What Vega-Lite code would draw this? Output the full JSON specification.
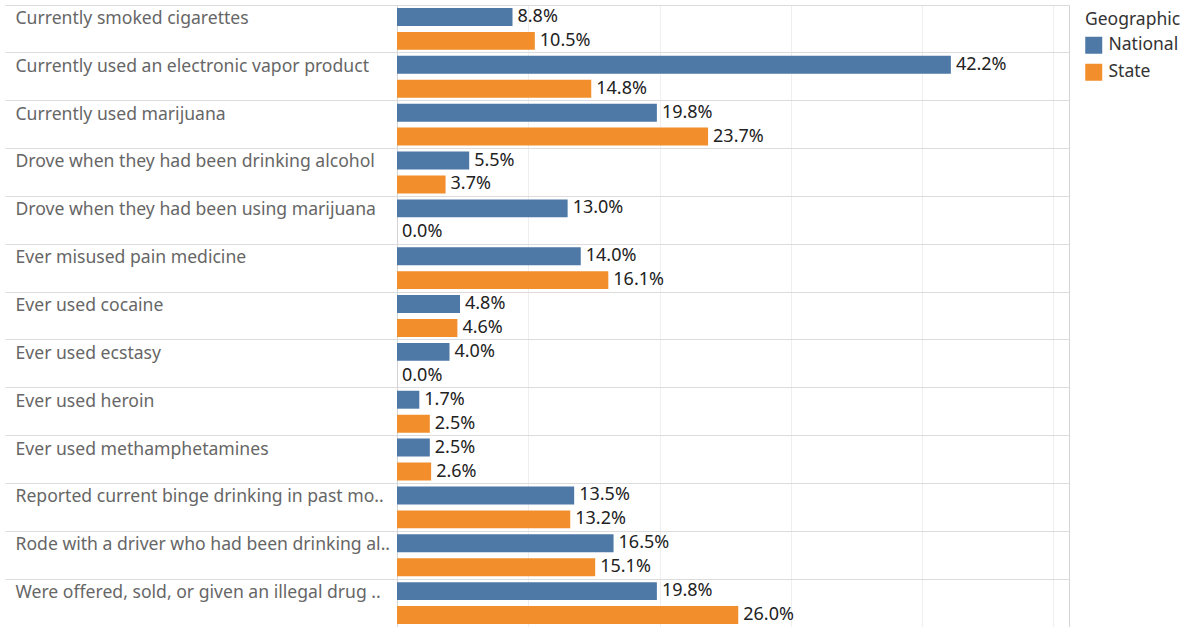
{
  "$schema": "https://vega.github.io/schema/vega-lite/v6.json",
  "width": 672,
  "height": 622,
  "autosize": {"type": "none"},
  "padding": {"left": 397, "top": 5, "right": 120, "bottom": 0},
  "background": "white",
  "data": {
    "values": [
      {"measure": "Currently smoked cigarettes", "geo": "National", "value": 0.088},
      {"measure": "Currently smoked cigarettes", "geo": "State", "value": 0.105},
      {"measure": "Currently used an electronic vapor product", "geo": "National", "value": 0.422},
      {"measure": "Currently used an electronic vapor product", "geo": "State", "value": 0.148},
      {"measure": "Currently used marijuana", "geo": "National", "value": 0.198},
      {"measure": "Currently used marijuana", "geo": "State", "value": 0.237},
      {"measure": "Drove when they had been drinking alcohol", "geo": "National", "value": 0.055},
      {"measure": "Drove when they had been drinking alcohol", "geo": "State", "value": 0.037},
      {"measure": "Drove when they had been using marijuana", "geo": "National", "value": 0.130},
      {"measure": "Drove when they had been using marijuana", "geo": "State", "value": 0.0},
      {"measure": "Ever misused pain medicine", "geo": "National", "value": 0.140},
      {"measure": "Ever misused pain medicine", "geo": "State", "value": 0.161},
      {"measure": "Ever used cocaine", "geo": "National", "value": 0.048},
      {"measure": "Ever used cocaine", "geo": "State", "value": 0.046},
      {"measure": "Ever used ecstasy", "geo": "National", "value": 0.040},
      {"measure": "Ever used ecstasy", "geo": "State", "value": 0.0},
      {"measure": "Ever used heroin", "geo": "National", "value": 0.017},
      {"measure": "Ever used heroin", "geo": "State", "value": 0.025},
      {"measure": "Ever used methamphetamines", "geo": "National", "value": 0.025},
      {"measure": "Ever used methamphetamines", "geo": "State", "value": 0.026},
      {"measure": "Reported current binge drinking in past mo..", "geo": "National", "value": 0.135},
      {"measure": "Reported current binge drinking in past mo..", "geo": "State", "value": 0.132},
      {"measure": "Rode with a driver who had been drinking al..", "geo": "National", "value": 0.165},
      {"measure": "Rode with a driver who had been drinking al..", "geo": "State", "value": 0.151},
      {"measure": "Were offered, sold, or given an illegal drug ..", "geo": "National", "value": 0.198},
      {"measure": "Were offered, sold, or given an illegal drug ..", "geo": "State", "value": 0.260}
    ]
  },
  "encoding": {
    "y": {
      "field": "measure",
      "type": "nominal",
      "sort": null,
      "scale": {"paddingInner": 0, "paddingOuter": 0},
      "axis": {
        "title": null,
        "bandPosition": 0,
        "ticks": true,
        "tickSize": 392,
        "tickColor": "#dcdcdc",
        "grid": true,
        "gridColor": "#dcdcdc",
        "domain": false,
        "labelAlign": "left",
        "labelBaseline": "middle",
        "labelPadding": -10,
        "labelOffset": -10,
        "labelFontSize": 17.6,
        "labelColor": "#666666",
        "labelFont": "Noto Sans",
        "labelLimit": 400
      }
    },
    "yOffset": {
      "field": "geo",
      "type": "nominal",
      "sort": ["National", "State"],
      "scale": {"paddingInner": 0.25, "paddingOuter": 0.125}
    },
    "x": {
      "field": "value",
      "type": "quantitative",
      "scale": {"domain": [0, 0.512], "nice": false, "zero": true},
      "axis": {
        "title": null,
        "labels": false,
        "ticks": false,
        "domain": false,
        "grid": true,
        "gridColor": "#efefef",
        "values": [0.1, 0.2, 0.3, 0.4, 0.5]
      }
    }
  },
  "layer": [
    {
      "mark": {"type": "bar"},
      "encoding": {
        "color": {
          "field": "geo",
          "type": "nominal",
          "scale": {"domain": ["National", "State"], "range": ["#4e79a7", "#f28e2b"]},
          "legend": {
            "title": "Geographic",
            "orient": "none",
            "legendX": 688,
            "legendY": 6,
            "titleFont": "Noto Sans",
            "titleFontSize": 17.5,
            "titleFontWeight": "normal",
            "titleColor": "#333333",
            "labelFont": "Noto Sans",
            "labelFontSize": 17.5,
            "labelColor": "#333333",
            "symbolType": "square",
            "symbolSize": 289,
            "symbolStrokeWidth": 0,
            "symbolOpacity": 1,
            "rowPadding": 8,
            "labelOffset": 6,
            "titlePadding": 8
          }
        }
      }
    },
    {
      "mark": {
        "type": "text",
        "align": "left",
        "baseline": "middle",
        "dx": 5,
        "fontSize": 18,
        "font": "Noto Sans",
        "color": "#222222"
      },
      "encoding": {
        "text": {"field": "value", "type": "quantitative", "format": ".1%"}
      }
    }
  ],
  "config": {
    "view": {"stroke": "#d4d4d4"}
  }
}
